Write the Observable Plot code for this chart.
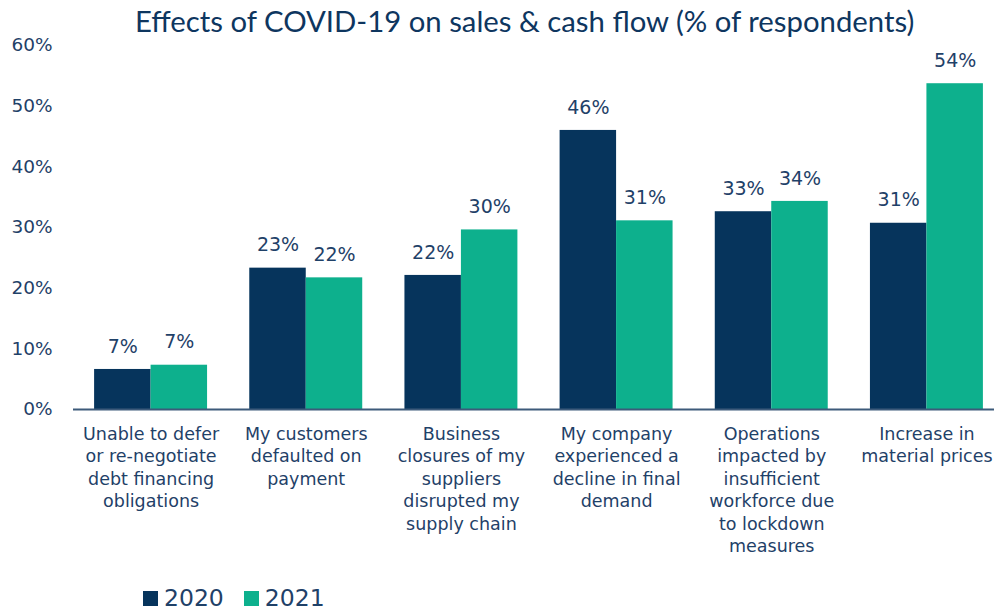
<!DOCTYPE html>
<html><head><meta charset="utf-8">
<script src="https://cdn.jsdelivr.net/npm/d3@7"></script>
<script src="https://cdn.jsdelivr.net/npm/@observablehq/plot@0.6"></script>
<style>
body{margin:0;width:994px;height:611px;overflow:hidden;background:#fff;position:relative;font-family:"DejaVu Sans",sans-serif;}
#title{position:absolute;top:3px;left:135px;font-family:Lato,sans-serif;font-size:29.3px;color:#0e365f;white-space:nowrap;}
#chart{position:absolute;top:0;left:0;}
#legend{position:absolute;top:587px;left:143px;display:flex;align-items:center;font-size:23.5px;line-height:23px;color:#1f4168;}
#legend span.sw{display:inline-block;width:15px;height:15px;margin-right:6px;}
#legend span.item{display:flex;align-items:center;margin-right:20px;}
</style></head>
<body>
<div id="title">Effects of COVID-19 on sales &amp; cash flow (% of respondents)</div>
<div id="chart"></div>
<div id="legend"></div>
<script>
const categories = [
  "Unable to defer\nor re-negotiate\ndebt financing\nobligations",
  "My customers\ndefaulted on\npayment",
  "Business\nclosures of my\nsuppliers\ndisrupted my\nsupply chain",
  "My company\nexperienced a\ndecline in final\ndemand",
  "Operations\nimpacted by\ninsufficient\nworkforce due\nto lockdown\nmeasures",
  "Increase in\nmaterial prices"
];
const years = ["2020", "2021"];
const values2020 = [6.6, 23.3, 22.1, 46.0, 32.6, 30.7];
const values2021 = [7.3, 21.7, 29.6, 31.1, 34.3, 53.7];
const yTicks = [0, 10, 20, 30, 40, 50, 60];
const colors = ["#06345c", "#0db08d"];

const data = [];
categories.forEach((c, i) => {
  data.push({cat: c, year: "2020", value: values2020[i]});
  data.push({cat: c, year: "2021", value: values2021[i]});
});
const d2020 = data.filter(d => d.year === "2020");
const d2021 = data.filter(d => d.year === "2021");

const xRange = [73, 1004];
const band = d3.scaleBand().domain(categories).range(xRange).paddingInner(0.272).paddingOuter(0.136);
const bw = band.bandwidth();
const textColor = "#1f4168";

const chart = Plot.plot({
  width: 994,
  height: 580,
  marginTop: 45,
  marginBottom: 171,
  marginLeft: 73,
  marginRight: 0,
  style: {fontFamily: "'DejaVu Sans', sans-serif", color: textColor, background: "transparent"},
  x: {domain: categories, range: xRange, paddingInner: 0.272, paddingOuter: 0.136, round: false},
  y: {domain: [0, 60]},
  color: {domain: years, range: colors},
  marks: [
    Plot.barY(d2020, {x: "cat", y: "value", fill: "year", insetRight: bw / 2}),
    Plot.barY(d2021, {x: "cat", y: "value", fill: "year", insetLeft: bw / 2}),
    Plot.text(d2020, {x: "cat", y: "value", text: d => Math.round(d.value) + "%", dx: -bw / 4, dy: -23, fontSize: 19, fill: textColor}),
    Plot.text(d2021, {x: "cat", y: "value", text: d => Math.round(d.value) + "%", dx: bw / 4, dy: -23, fontSize: 19, fill: textColor}),
    Plot.ruleY([0], {stroke: "#3d5a7a", strokeWidth: 2}),
    Plot.axisY({ticks: yTicks, tickFormat: d => d + "%", tickSize: 0, tickPadding: 21, fontSize: 18.5, label: null, fill: textColor}),
    Plot.axisX({tickSize: 0, tickPadding: 14, fontSize: 17.5, lineHeight: 1.29, label: null, fill: textColor})
  ]
});
document.getElementById("chart").appendChild(chart);

const legend = document.getElementById("legend");
years.forEach((y, i) => {
  const item = document.createElement("span");
  item.className = "item";
  item.innerHTML = `<span class="sw" style="background:${colors[i]}"></span>${y}`;
  legend.appendChild(item);
});
</script>
</body></html>
